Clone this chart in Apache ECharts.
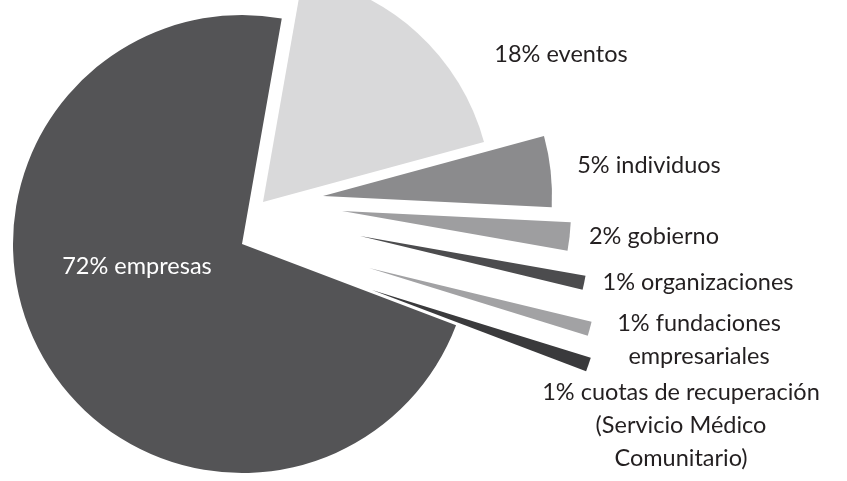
<!DOCTYPE html>
<html>
<head>
<meta charset="utf-8">
<script src="https://cdn.jsdelivr.net/npm/echarts@6/dist/echarts.min.js"></script>
<style>
html,body{margin:0;padding:0;background:#fff;}
#chart{width:847px;height:481px;}
</style>
</head>
<body>
<div id="chart"></div>
<script>
// Data (clockwise from the top-right edge of the "eventos" slice)
const categories = ['eventos', 'individuos', 'gobierno', 'organizaciones', 'fundaciones empresariales', 'cuotas de recuperación (Servicio Médico Comunitario)', 'empresas'];
const values = [18, 5, 2, 1, 1, 1, 72];
const labelTexts = ['18% eventos', '5% individuos', '2% gobierno', '1% organizaciones', '1% fundaciones\nempresariales', '1% cuotas de recuperación\n(Servicio Médico\nComunitario)', '72% empresas'];

// Styling / layout (not data)
const colors = ['#d9d9da', '#8b8b8d', '#9e9ea0', '#4c4c4e', '#a2a2a4', '#3a3a3c', '#545456'];
const sliceCenters = [[263, 202], [323, 196], [342, 211], [360, 236], [369, 268], [372, 290], [242, 244]];
const labelPos = [[561, 54], [649, 165], [654, 236], [698, 282], [699, 340], [681, 425], [137, 266]];

const chart = echarts.init(document.getElementById('chart'), null, {renderer: 'canvas'});
const option = {
  animation: false,
  backgroundColor: '#ffffff',
  series: values.map((_, i) => ({
    type: 'pie',
    center: sliceCenters[i],
    radius: 229,
    startAngle: 80,
    clockwise: true,
    avoidLabelOverlap: false,
    silent: true,
    z: i === values.length - 1 ? 1 : 2,
    emphasis: {disabled: true},
    labelLine: {show: false},
    labelLayout: function () {
      return {x: labelPos[i][0], y: labelPos[i][1], align: 'center', verticalAlign: 'middle'};
    },
    data: values.map((v, j) => ({
      name: categories[j],
      value: v,
      itemStyle: {color: j === i ? colors[j] : 'rgba(0,0,0,0)'},
      label: j === i ? {
        show: true,
        position: 'inside',
        formatter: labelTexts[j],
        color: j === values.length - 1 ? '#ffffff' : '#231f20',
        fontSize: 23.5,
        lineHeight: 33,
        fontFamily: 'Lato',
        align: 'center'
      } : {show: false}
    }))
  }))
};
chart.setOption(option);
</script>
</body>
</html>
